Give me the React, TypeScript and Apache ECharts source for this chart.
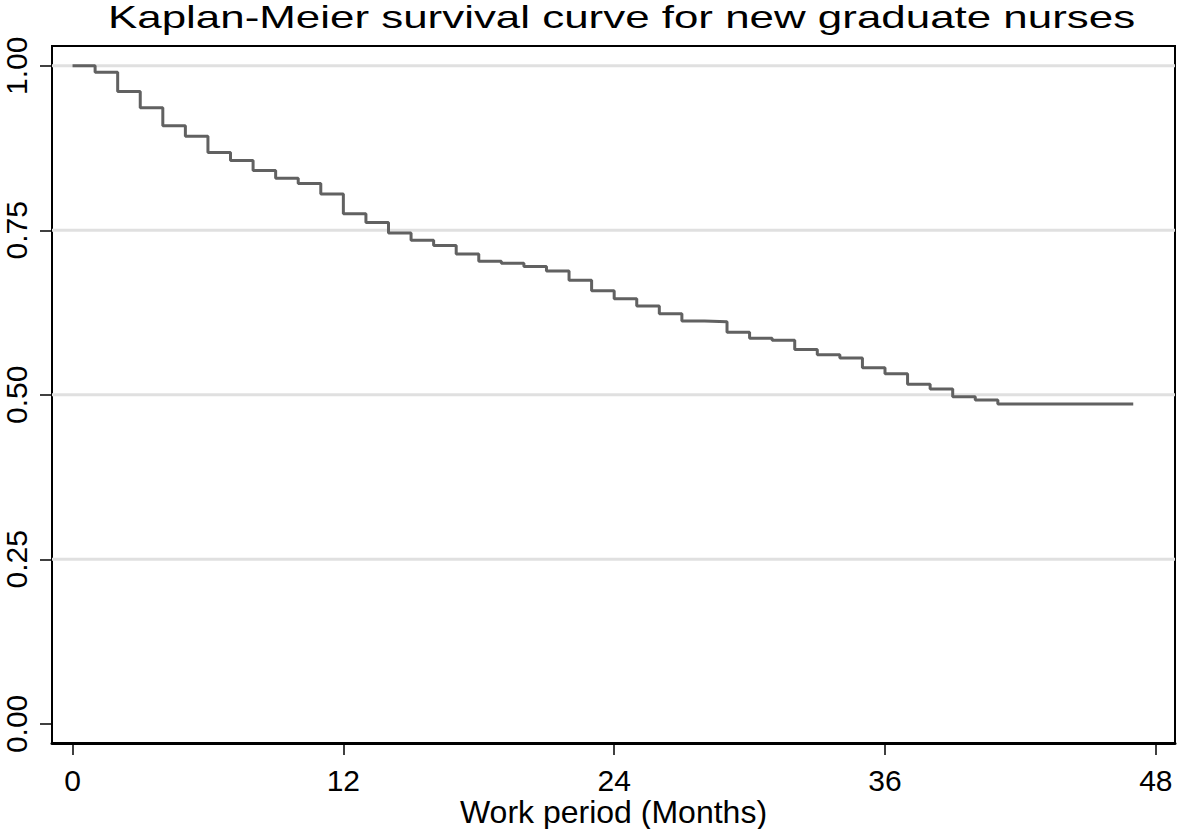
import React, { useEffect, useRef } from "react";
import * as echarts from "echarts";

const titleText = "Kaplan-Meier survival curve for new graduate nurses";
const xAxisName = "Work period (Months)";
const months = [0, 1, 2, 3, 4, 5, 6, 7, 8, 9, 10, 11, 12, 13, 14, 15, 16, 17, 18, 19, 20, 21, 22, 23, 24, 25, 26, 27, 28, 29, 30, 31, 32, 33, 34, 35, 36, 37, 38, 39, 40, 41, 47];
const survival = [1.0, 0.99, 0.961, 0.936, 0.909, 0.893, 0.868, 0.856, 0.841, 0.829, 0.821, 0.805, 0.775, 0.762, 0.746, 0.735, 0.727, 0.714, 0.703, 0.7, 0.695, 0.688, 0.674, 0.658, 0.646, 0.635, 0.623, 0.612, 0.611, 0.595, 0.586, 0.583, 0.569, 0.561, 0.556, 0.541, 0.532, 0.516, 0.509, 0.497, 0.492, 0.486, 0.486];
const xTicks = [0, 12, 24, 36, 48];
const yTicks = [0, 0.25, 0.5, 0.75, 1.0];
const yGridLines = [0.25, 0.5, 0.75, 1.0];
const xMin = -0.91;
const xMax = 48.85;

export default function App() {
  const ref = useRef<HTMLDivElement>(null);
  useEffect(() => {
    if (!ref.current) return;
    const chart = echarts.init(ref.current, null, { renderer: "svg" });
    const font = "'Liberation Sans', Arial, Helvetica, sans-serif";
    const gridSeries = yGridLines.map((v) => ({
      type: "line",
      z: 1,
      silent: true,
      symbol: "none",
      showSymbol: false,
      lineStyle: { color: "#e0e0e0", width: 3 },
      data: [
        [xMin, v],
        [xMax, v],
      ],
    }));
    chart.setOption({
      animation: false,
      backgroundColor: "#ffffff",
      textStyle: { fontFamily: font },
      graphic: [
        {
          type: "text",
          x: 108,
          y: 17,
          scaleX: 1.372,
          scaleY: 1,
          style: {
            text: titleText,
            font: `32px ${font}`,
            fill: "#000",
            textAlign: "left",
            textVerticalAlign: "middle",
          },
        },
      ],
      grid: {
        left: 52,
        top: 46,
        right: 2,
        bottom: 86,
        containLabel: false,
        outerBoundsMode: "none",
        show: true,
        borderColor: "#000",
        borderWidth: 2,
        backgroundColor: "#fff",
      },
      xAxis: {
        type: "value",
        min: xMin,
        max: xMax,
        name: xAxisName,
        nameLocation: "middle",
        nameGap: 53,
        nameMoveOverlap: false,
        nameTextStyle: { fontSize: 32, color: "#000", fontFamily: font },
        axisLine: { show: true, onZero: false, lineStyle: { color: "#000", width: 3 } },
        axisTick: {
          show: true,
          length: 12,
          lineStyle: { color: "#000", width: 1.5 },
          customValues: xTicks,
        },
        axisLabel: {
          customValues: xTicks,
          fontSize: 30,
          color: "#000",
          margin: 22,
          fontFamily: font,
        },
        splitLine: { show: false },
      },
      yAxis: {
        type: "value",
        min: -0.029,
        max: 1.03,
        axisLine: { show: true, onZero: false, lineStyle: { color: "#000", width: 2 } },
        axisTick: {
          show: true,
          length: 12,
          lineStyle: { color: "#000", width: 1.5 },
          customValues: yTicks,
        },
        axisLabel: {
          customValues: yTicks,
          fontSize: 30,
          color: "#000",
          rotate: 90,
          margin: 21,
          fontFamily: font,
          formatter: (v: number) => v.toFixed(2),
        },
        splitLine: { show: false },
      },
      series: [
        ...gridSeries,
        {
          type: "line",
          z: 3,
          step: "end",
          showSymbol: false,
          symbol: "none",
          lineStyle: { color: "#616161", width: 3 },
          data: months.map((m, i) => [m, survival[i]]),
        },
      ],
    });
    return () => chart.dispose();
  }, []);
  return (
    <div
      ref={ref}
      style={{ position: "fixed", left: 0, top: 0, width: 1177, height: 829, background: "#fff" }}
    />
  );
}
